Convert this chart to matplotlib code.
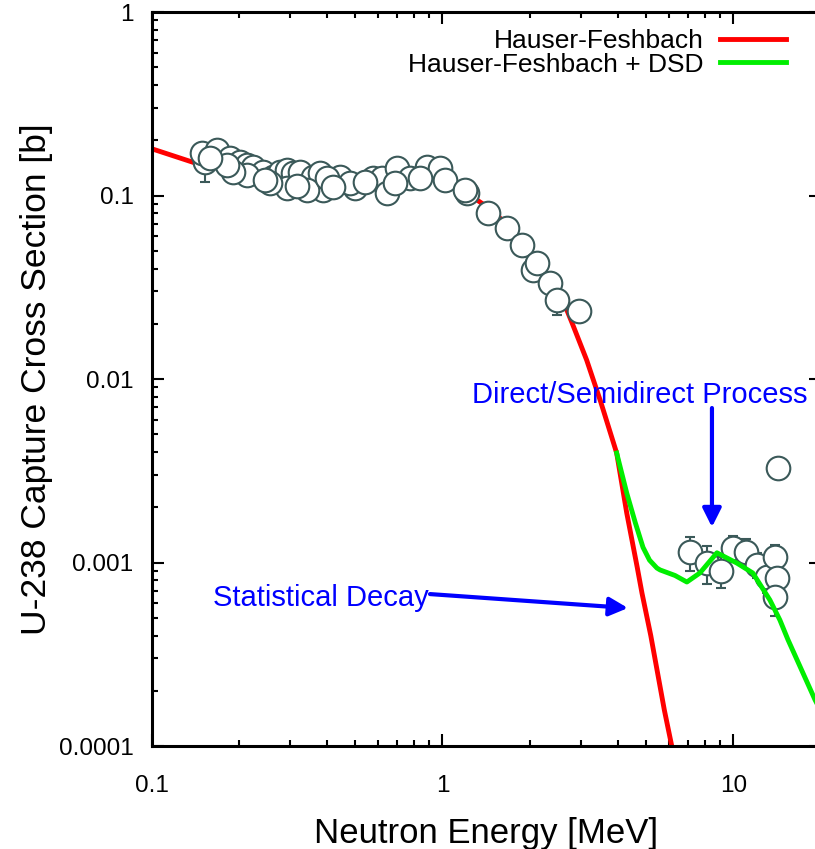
import matplotlib
matplotlib.use("Agg")
import matplotlib.pyplot as plt
from matplotlib.ticker import FixedLocator, FuncFormatter, LogLocator, NullFormatter

plt.rcParams["font.family"] = ["Liberation Sans", "DejaVu Sans"]

# Hauser-Feshbach calculation
hf_energy = [0.1, 0.142, 0.2, 0.3, 0.5, 0.8, 1.0, 1.5, 2.0, 2.5, 2.79, 3.13,
             3.5, 3.97, 4.30, 4.67, 4.85, 5.2, 5.79, 6.14]
hf_xs = [0.18, 0.150, 0.138, 0.126, 0.120, 0.128, 0.127, 0.082, 0.050, 0.031,
         0.0202, 0.0127, 0.0075, 0.00395, 0.00186, 0.000944, 0.000682,
         0.00040, 0.000157, 0.0001]

# Hauser-Feshbach + direct/semidirect capture
dsd_energy = [3.97, 4.30, 4.60, 4.89, 5.15, 5.46, 5.60, 6.3, 6.92, 7.67,
              8.78, 10.28, 11.66, 13.35, 14.45, 15.4, 19.1, 20.0]
dsd_xs = [0.00395, 0.00239, 0.00165, 0.00121, 0.00103, 0.000933, 0.000911,
          0.00085, 0.000783, 0.000877, 0.00113, 0.000993, 0.000877,
          0.000625, 0.000486, 0.00038, 0.000178, 0.000155]

# measured capture cross sections below 3 MeV
exp_energy = [0.1527, 0.149, 0.168, 0.186, 0.201, 0.213, 0.223, 0.2415,
              0.2615, 0.276, 0.292, 0.306, 0.324, 0.359, 0.379, 0.388, 0.342,
              0.292, 0.255, 0.213, 0.1904, 0.444, 0.500, 0.577, 0.620, 0.698,
              0.773, 0.885, 0.980, 1.020, 0.644, 1.214, 0.401, 1.195, 1.433,
              1.666, 1.876, 2.046, 2.113, 2.343, 2.476, 2.946, 0.481, 0.687,
              0.837, 0.245, 0.182, 0.1588, 0.315, 0.420, 0.540]
exp_xs = [0.152, 0.1705, 0.177, 0.160, 0.152, 0.1467, 0.143, 0.134, 0.126,
          0.134, 0.138, 0.133, 0.134, 0.126, 0.133, 0.107, 0.107, 0.110,
          0.117, 0.129, 0.134, 0.126, 0.110, 0.124, 0.124, 0.141, 0.124,
          0.143, 0.141, 0.1215, 0.103, 0.103, 0.124, 0.107, 0.0803, 0.0665,
          0.0537, 0.0393, 0.0429, 0.0334, 0.0270, 0.0235, 0.117, 0.117,
          0.124, 0.1215, 0.1467, 0.160, 0.113, 0.112, 0.118]
exp_err = [0.034] + [0.0] * 39 + [0.0047] + [0.0] * 10

# measured capture cross sections around 14 MeV
fast_energy = [7.09, 8.11, 9.06, 9.96, 11.04, 12.04, 13.03, 13.89, 14.1,
               13.89, 14.23]
fast_xs = [0.00114, 0.000993, 0.000899, 0.0012, 0.00114, 0.00097, 0.000834,
           0.00107, 0.000824, 0.000648, 0.00327]
fast_err = [0.00024, 0.00023, 0.00017, 0.00019, 0.0002, 0.00015, 0.00015,
            0.00017, 0.00013, 0.00014, 0.0]

slate = "#3b5959"

fig = plt.figure(figsize=(8.15, 8.49), dpi=100)
ax = fig.add_axes([0.186, 0.1213, 0.8213, 0.8645])

pt_style = dict(fmt="o", ms=17, mfc="white", mec=slate, mew=1.5,
                ecolor=slate, elinewidth=1.5, capsize=3.6, capthick=1.5)
ax.errorbar(fast_energy, fast_xs, yerr=fast_err, zorder=1.5, **pt_style)

ax.plot(hf_energy, hf_xs, color="#ff0000", lw=3.5, zorder=2,
        label="Hauser-Feshbach")
ax.plot(dsd_energy, dsd_xs, color="#00ee00", lw=3.5, zorder=2,
        label="Hauser-Feshbach + DSD")

ax.errorbar(exp_energy, exp_xs, yerr=exp_err, zorder=3, **pt_style)

ax.set_xscale("log")
ax.set_yscale("log")
ax.set_xlim(0.1, 20)
ax.set_ylim(1e-4, 1)

fmt = FuncFormatter(lambda v, pos: "%g" % v)
ax.xaxis.set_major_locator(FixedLocator([0.1, 1, 10]))
ax.xaxis.set_major_formatter(fmt)
ax.yaxis.set_major_locator(FixedLocator([1e-4, 1e-3, 1e-2, 0.1, 1]))
ax.yaxis.set_major_formatter(fmt)
for axis in (ax.xaxis, ax.yaxis):
    axis.set_minor_locator(LogLocator(base=10, subs=range(2, 10)))
    axis.set_minor_formatter(NullFormatter())

ax.tick_params(which="both", direction="in", top=True, right=True,
               width=1.5, labelsize=17.5)
ax.tick_params(which="major", length=8.6)
ax.tick_params(which="minor", length=4.3)
ax.tick_params(axis="x", pad=21)
ax.tick_params(axis="y", pad=13)
for sp in ax.spines.values():
    sp.set_linewidth(2.2)

ax.set_xlabel("Neutron Energy [MeV]", fontsize=25, labelpad=14)
ax.set_ylabel("U-238 Capture Cross Section [b]", fontsize=25.5, labelpad=4)

ax.legend(loc="upper right", bbox_to_anchor=(0.963, 0.991), frameon=False,
          markerfirst=False, fontsize=19, handlelength=2.5,
          handletextpad=0.6, labelspacing=-0.02, borderaxespad=0.0)

arrow = dict(arrowstyle="-|>", color="#0000ff", lw=3, mutation_scale=28,
             shrinkA=0, shrinkB=0)
ax.text(4.77, 0.00818, "Direct/Semidirect Process", color="#0000ff",
        fontsize=21, ha="center", va="center")
ax.annotate("", xy=(8.44, 0.00156), xytext=(8.44, 0.00695), arrowprops=arrow)
ax.text(0.895, 0.000641, "Statistical Decay", color="#0000ff",
        fontsize=21, ha="right", va="center")
ax.annotate("", xy=(4.34, 0.000565), xytext=(0.906, 0.000673),
            arrowprops=arrow)

fig.savefig("out.png", dpi=100)
